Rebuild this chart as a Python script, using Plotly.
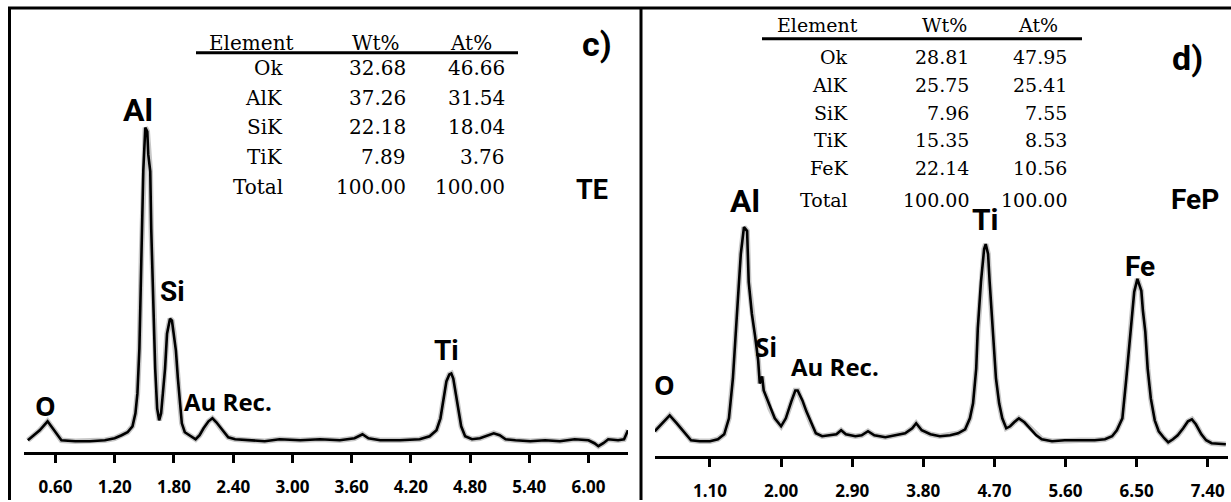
import plotly.graph_objects as go

W, H = 1231, 502

# ---- spectrum c) : TE sample ----
energy_c = [0.32, 0.44, 0.52, 0.59, 0.66, 0.80, 0.95, 1.10, 1.20, 1.27,
            1.33, 1.38, 1.41, 1.43, 1.45, 1.47, 1.49, 1.51, 1.53, 1.54,
            1.56, 1.57, 1.59, 1.61, 1.63, 1.65, 1.67, 1.69, 1.71, 1.73,
            1.76, 1.78, 1.80, 1.82, 1.84, 1.86, 1.88, 1.91, 1.96, 2.02,
            2.06, 2.10, 2.15, 2.19, 2.23, 2.29, 2.35, 2.42, 2.57, 2.72,
            2.87, 3.08, 3.28, 3.48, 3.63, 3.71, 3.77, 3.89, 4.09, 4.29,
            4.39, 4.46, 4.50, 4.53, 4.56, 4.59, 4.61, 4.63, 4.65, 4.68,
            4.71, 4.75, 4.82, 4.90, 4.98, 5.04, 5.10, 5.16, 5.26, 5.41,
            5.56, 5.71, 5.86, 6.00, 6.06, 6.10, 6.15, 6.20, 6.30, 6.36, 6.40]
counts_c = [12, 22, 31, 21, 12, 11, 11, 12, 14, 17,
            20, 26, 39, 59, 104, 194, 284, 326, 322, 299,
            282, 224, 154, 84, 44, 32, 39, 59, 84, 119,
            134, 132, 119, 102, 74, 49, 29, 20, 17, 13,
            17, 24, 31, 34, 30, 22, 15, 13, 12, 11,
            13, 12, 13, 12, 14, 18, 14, 12, 12, 13,
            16, 22, 34, 54, 71, 78, 79, 74, 62, 44,
            26, 16, 13, 14, 17, 19, 17, 13, 12, 11,
            12, 11, 13, 12, 9, 6, 9, 13, 12, 13, 22]
ticks_c = [0.60, 1.20, 1.80, 2.40, 3.00, 3.60, 4.20, 4.80, 5.40, 6.00]

# ---- spectrum d) : FeP sample ----
energy_d = [0.40, 0.49, 0.59, 0.68, 0.77, 0.86, 0.97, 1.10, 1.20, 1.28,
            1.34, 1.39, 1.44, 1.49, 1.53, 1.57, 1.59, 1.63, 1.67, 1.71,
            1.73, 1.76, 1.78, 1.82, 1.86, 1.92, 2.00, 2.06, 2.13, 2.18,
            2.21, 2.27, 2.32, 2.38, 2.44, 2.52, 2.62, 2.70, 2.76, 2.82,
            2.94, 3.02, 3.10, 3.18, 3.32, 3.44, 3.57, 3.66, 3.71, 3.78,
            3.89, 4.01, 4.14, 4.24, 4.33, 4.39, 4.43, 4.47, 4.49, 4.53,
            4.57, 4.59, 4.62, 4.64, 4.68, 4.72, 4.76, 4.80, 4.85, 4.90,
            4.95, 5.01, 5.08, 5.15, 5.23, 5.30, 5.43, 5.59, 5.78, 5.97,
            6.10, 6.19, 6.25, 6.32, 6.37, 6.42, 6.47, 6.51, 6.53, 6.56,
            6.58, 6.61, 6.64, 6.68, 6.73, 6.78, 6.85, 6.90, 6.96, 7.02,
            7.09, 7.15, 7.20, 7.25, 7.32, 7.38, 7.45, 7.56, 7.63]
counts_d = [25, 33, 41, 33, 25, 16, 15, 15, 17, 22,
            38, 78, 141, 203, 230, 226, 175, 143, 121, 96,
            73, 80, 66, 58, 48, 38, 30, 38, 55, 66,
            66, 56, 45, 33, 23, 20, 21, 22, 26, 22,
            20, 21, 25, 21, 19, 21, 23, 28, 33, 26,
            22, 20, 21, 23, 27, 38, 53, 88, 128, 175,
            208, 213, 203, 175, 128, 78, 53, 38, 28, 30,
            34, 38, 34, 28, 21, 17, 15, 16, 16, 16,
            17, 20, 26, 38, 78, 123, 165, 178, 173, 166,
            146, 125, 88, 58, 36, 25, 18, 14, 17, 21,
            28, 35, 37, 32, 22, 16, 13, 12, 12]
ticks_d = [1.10, 2.00, 2.90, 3.80, 4.70, 5.60, 6.50, 7.40]

# ---- composition tables ----
elements_c = ["Ok", "AlK", "SiK", "TiK", "Total"]
wt_c = ["32.68", "37.26", "22.18", "7.89", "100.00"]
at_c = ["46.66", "31.54", "18.04", "3.76", "100.00"]

elements_d = ["Ok", "AlK", "SiK", "TiK", "FeK", "Total"]
wt_d = ["28.81", "25.75", "7.96", "15.35", "22.14", "100.00"]
at_d = ["47.95", "25.41", "7.55", "8.53", "10.56", "100.00"]


def px(x):
    return x / W


def py(y):
    return 1 - y / H


fig = go.Figure()

for xs, ys, xa, ya in [(energy_c, counts_c, "x", "y"), (energy_d, counts_d, "x2", "y2")]:
    fig.add_trace(go.Scatter(x=xs, y=ys, xaxis=xa, yaxis=ya, mode="lines",
                             line=dict(color="rgba(0,0,0,0.22)", width=5.5),
                             hoverinfo="skip", showlegend=False))
    fig.add_trace(go.Scatter(x=xs, y=ys, xaxis=xa, yaxis=ya, mode="lines",
                             line=dict(color="black", width=2.6),
                             showlegend=False))

tick_font = dict(family="Open Sans, DejaVu Sans", size=17, color="black", weight="bold")
axis_common = dict(showline=True, linewidth=3, linecolor="black", ticks="outside",
                   ticklen=8, tickwidth=2.5, tickcolor="black", showgrid=False,
                   zeroline=False, tickfont=tick_font, ticklabelstandoff=9,
                   fixedrange=True)

fig.update_layout(
    width=W, height=H, margin=dict(l=0, r=0, t=0, b=0),
    paper_bgcolor="white", plot_bgcolor="white", showlegend=False,
    xaxis=dict(domain=[px(24), px(628)], range=[0.281, 6.400], anchor="y",
               tickvals=ticks_c, ticktext=[f"{t:.2f}" for t in ticks_c], **axis_common),
    yaxis=dict(domain=[py(454), py(10)], range=[0, 444], visible=False, fixedrange=True),
    xaxis2=dict(domain=[px(655), px(1228)], range=[0.404, 7.657], anchor="y2",
                tickvals=ticks_d, ticktext=[f"{t:.2f}" for t in ticks_d], **axis_common),
    yaxis2=dict(domain=[py(458), py(10)], range=[0, 448], visible=False, fixedrange=True),
)

# panel frames
frame = dict(type="line", xref="paper", yref="paper", line=dict(color="black", width=3))
fig.add_shape(x0=px(8), x1=1, y0=py(8), y1=py(8), **frame)
fig.add_shape(x0=px(9.5), x1=px(9.5), y0=py(7), y1=0, **frame)
fig.add_shape(x0=px(641), x1=px(641), y0=py(7), y1=0, **frame)

# table rules
fig.add_shape(x0=px(196), x1=px(518), y0=py(53), y1=py(53), **frame)
fig.add_shape(x0=px(762), x1=px(1082), y0=py(39), y1=py(39), **frame)


def note(text, x, y, size, family, anchor="center", bold=False):
    fig.add_annotation(text=text, x=px(x), y=py(y), xref="paper", yref="paper",
                       showarrow=False, xanchor=anchor, yanchor="middle",
                       font=dict(family=family, size=size, color="black",
                                 weight="bold" if bold else "normal"))


SERIF = "DejaVu Serif, Liberation Serif"
NARROW = "Roboto, Open Sans"
SANS = "Open Sans, DejaVu Sans"

# table c)
note("Element", 251, 43, 20, SERIF)
note("Wt%", 376, 43, 20, SERIF)
note("At%", 471, 43, 20, SERIF)
for i, (e, w, a) in enumerate(zip(elements_c, wt_c, at_c)):
    y = 68 + i * 30
    note(e, 285, y, 20, SERIF, "right")
    note(w, 408, y, 20, SERIF, "right")
    note(a, 507, y, 20, SERIF, "right")

# table d)
note("Element", 817, 25, 19, SERIF)
note("Wt%", 944, 25, 19, SERIF)
note("At%", 1038, 25, 19, SERIF)
for i, (e, w, a) in enumerate(zip(elements_d, wt_d, at_d)):
    y = 57 + i * 28 + (4 if e == "Total" else 0)
    note(e, 850, y, 19, SERIF, "right")
    note(w, 971, y, 19, SERIF, "right")
    note(a, 1069, y, 19, SERIF, "right")

# peak labels, panel c)
note("Al", 138, 110, 32, NARROW, bold=True)
note("Si", 172, 293, 28, NARROW, bold=True)
note("Au Rec.", 228, 403, 24, SANS, bold=True)
note("Ti", 446, 352, 28, NARROW, bold=True)
note("O", 45, 408, 26, SANS, bold=True)
note("TE", 592, 191, 27, NARROW, bold=True)
note("c)", 597, 44, 34, NARROW, bold=True)

# peak labels, panel d)
note("Al", 745, 202, 32, NARROW, bold=True)
note("Si", 766, 348, 26, SANS, bold=True)
note("Au Rec.", 835, 368, 24, SANS, bold=True)
note("O", 665, 387, 26, SANS, bold=True)
note("Ti", 985, 220, 30, NARROW, bold=True)
note("Fe", 1140, 268, 28, NARROW, bold=True)
note("FeP", 1195, 200, 28, NARROW, bold=True)
note("d)", 1187, 58, 34, NARROW, bold=True)

fig.write_html("out.html")
